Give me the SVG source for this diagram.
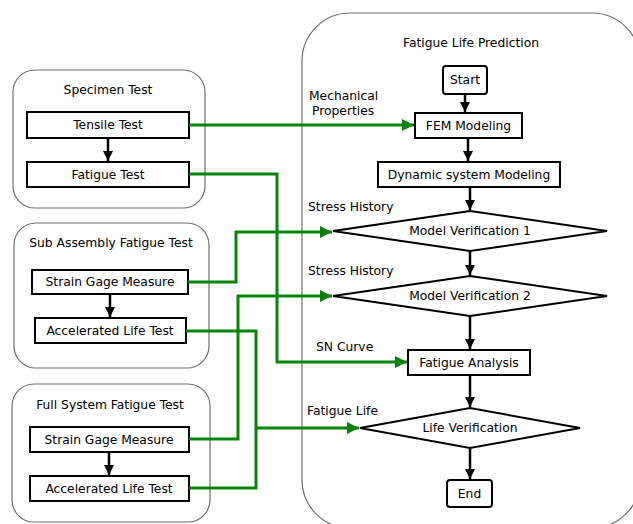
<svg xmlns="http://www.w3.org/2000/svg" width="633" height="524" viewBox="0 0 633 524">
<defs>
<style>
.cont{fill:#fff;stroke:#6e6e6e;stroke-width:1.2}
.box{fill:#fff;stroke:#000;stroke-width:2}
.t{font-family:"DejaVu Sans",Verdana,sans-serif;font-size:12.3px;fill:#000;text-anchor:middle;dominant-baseline:central}
.lbl{font-family:"DejaVu Sans",Verdana,sans-serif;font-size:12.3px;fill:#000;dominant-baseline:central}
.g{fill:none;stroke:#0a830a;stroke-width:3}
.k{fill:none;stroke:#000;stroke-width:2.5}
</style>
<marker id="ga" viewBox="0 0 10 10" refX="10" refY="5" markerWidth="4.5" markerHeight="4" markerUnits="strokeWidth" orient="auto"><path d="M0,0L10,5L0,10z" fill="#0a830a"/></marker>
<marker id="ka" viewBox="0 0 10 10" refX="10" refY="5" markerWidth="4" markerHeight="4" markerUnits="strokeWidth" orient="auto"><path d="M0,0L10,5L0,10z" fill="#000"/></marker>
</defs>
<rect width="633" height="524" fill="#fff"/>

<g id="specimen">
<rect class="cont" x="13" y="70" width="192" height="138" rx="22"/>
<text class="t" x="108" y="90">Specimen Test</text>
</g>
<g id="tensile"><rect class="box" x="27" y="112" width="162" height="26"/><text class="t" x="108" y="125">Tensile Test</text></g>
<g id="fatiguetest"><rect class="box" x="27" y="162" width="162" height="25"/><text class="t" x="108" y="174.5">Fatigue Test</text></g>

<g id="subassembly">
<rect class="cont" x="14" y="223" width="195" height="145" rx="22"/>
<text class="t" x="111" y="243">Sub Assembly Fatigue Test</text>
</g>
<g id="sub-strain"><rect class="box" x="32" y="270" width="156" height="24"/><text class="t" x="110" y="282">Strain Gage Measure</text></g>
<g id="sub-accel"><rect class="box" x="35" y="318" width="151" height="25"/><text class="t" x="110" y="330.5">Accelerated Life Test</text></g>

<g id="fullsystem">
<rect class="cont" x="12" y="384" width="198" height="138" rx="22"/>
<text class="t" x="110" y="405">Full System Fatigue Test</text>
</g>
<g id="full-strain"><rect class="box" x="30" y="427" width="159" height="25"/><text class="t" x="109" y="439.5">Strain Gage Measure</text></g>
<g id="full-accel"><rect class="box" x="30" y="476" width="159" height="25"/><text class="t" x="109" y="488.5">Accelerated Life Test</text></g>

<g id="prediction">
<rect class="cont" x="302" y="13" width="338" height="515" rx="48"/>
<text class="t" x="471" y="43">Fatigue Life Prediction</text>
</g>
<g id="start"><rect class="box" x="443" y="66" width="44" height="28" rx="3"/><text class="t" x="465" y="80">Start</text></g>
<g id="fem"><rect class="box" x="415" y="113" width="107" height="25"/><text class="t" x="468.5" y="125.5">FEM Modeling</text></g>
<g id="dynamic"><rect class="box" x="378" y="162" width="182" height="25"/><text class="t" x="469" y="174.5">Dynamic system Modeling</text></g>
<g id="mv1"><path class="box" d="M470,211L607,231L470,251L333,231z"/><text class="t" x="470" y="231">Model Verification 1</text></g>
<g id="mv2"><path class="box" d="M470,276L607,296L470,316L333,296z"/><text class="t" x="470" y="296">Model Verification 2</text></g>
<g id="fanalysis"><rect class="box" x="408" y="350" width="122" height="25"/><text class="t" x="469" y="362.5">Fatigue Analysis</text></g>
<g id="lifever"><path class="box" d="M470,408L580,428L470,448L360,428z"/><text class="t" x="470" y="428">Life Verification</text></g>
<g id="end"><rect class="box" x="447" y="480" width="45" height="27" rx="3"/><text class="t" x="469.5" y="493.5">End</text></g>

<g id="labels">
<text class="lbl" x="309" y="96">Mechanical</text>
<text class="lbl" x="312" y="111">Properties</text>
<text class="lbl" x="308" y="207">Stress History</text>
<text class="lbl" x="308" y="271">Stress History</text>
<text class="lbl" x="316" y="347">SN Curve</text>
<text class="lbl" x="307" y="411">Fatigue Life</text>
</g>

<g id="connectors">
<path class="k" d="M108,138V161" marker-end="url(#ka)"/>
<path class="k" d="M110,294V317" marker-end="url(#ka)"/>
<path class="k" d="M109,452V475" marker-end="url(#ka)"/>
<path class="k" d="M465,94V112" marker-end="url(#ka)"/>
<path class="k" d="M468,138V161" marker-end="url(#ka)"/>
<path class="k" d="M470,187V210" marker-end="url(#ka)"/>
<path class="k" d="M470,251V275" marker-end="url(#ka)"/>
<path class="k" d="M470,316V349" marker-end="url(#ka)"/>
<path class="k" d="M470,375V407" marker-end="url(#ka)"/>
<path class="k" d="M470,448V479" marker-end="url(#ka)"/>

<path class="g" d="M189,125H414" marker-end="url(#ga)"/>
<path class="g" d="M189,174H277V362H407" marker-end="url(#ga)"/>
<path class="g" d="M188,282H236V232H332" marker-end="url(#ga)"/>
<path class="g" d="M189,439H238V296H332" marker-end="url(#ga)"/>
<path class="g" d="M186,331H256V428H359" marker-end="url(#ga)"/>
<path class="g" d="M189,488H256V428"/>
</g>
</svg>
